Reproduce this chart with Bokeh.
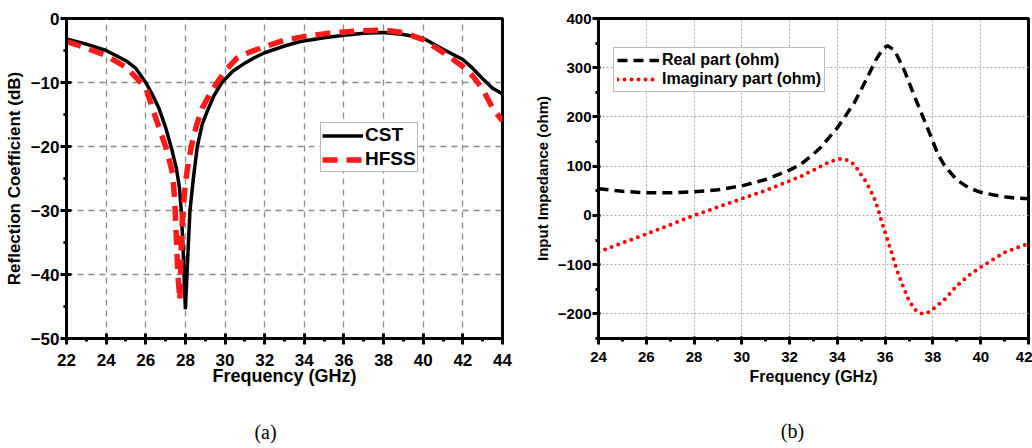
from bokeh.plotting import figure
from bokeh.models import Legend, LegendItem, FixedTicker, Range1d, Label
from bokeh.layouts import row
from bokeh.embed import file_html
from bokeh.resources import INLINE

# ---- (a) reflection coefficient, CST vs HFSS ----
freq_cst = [22, 23, 24, 25, 25.5, 26.0, 26.3, 26.66, 27.0, 27.3, 27.55, 27.7, 27.79,
            27.87, 27.93, 28.0, 28.05, 28.1, 28.23, 28.4, 28.6, 28.85, 29.1, 29.45,
            29.84, 30.4, 31.04, 31.5, 32, 33, 33.8, 35, 36, 37, 38, 39, 40, 41, 42,
            42.5, 43, 43.5, 44]
s11_cst = [-3.2, -4.0, -5.0, -6.6, -7.8, -10, -11.7, -14, -17, -20.3, -23.5, -26.5,
           -30, -35, -40, -45.4, -42, -38.5, -30, -25, -20, -16.5, -14.5, -12, -10,
           -8.2, -6.9, -6.1, -5.35, -4.3, -3.6, -3.0, -2.6, -2.3, -2.2, -2.5, -3.1,
           -4.8, -6.4, -7.8, -9.4, -10.9, -11.8]

freq_hfss = [22, 23, 24, 25, 25.75, 26.0, 26.33, 26.7, 27.0, 27.2, 27.36, 27.45,
             27.54, 27.62, 27.72, 27.76, 27.8, 27.88, 28.0, 28.15, 28.3, 28.55, 28.85,
             29.2, 29.6, 30.0, 30.6, 31.2, 32, 33, 34, 35, 36, 37, 38, 39, 40, 41, 42,
             42.5, 43, 43.5, 44]
s11_hfss = [-3.6, -4.6, -5.8, -7.6, -10, -10.8, -14, -17.3, -20, -22.3, -24.3, -28,
            -34, -40, -44, -40, -34, -30, -25.7, -22.5, -20, -16.8, -14, -12, -10,
            -8.2, -6.2, -5.3, -4.4, -3.4, -2.8, -2.4, -2.1, -1.9, -1.8, -2.2, -3.3,
            -5.3, -7.5, -9.0, -11, -14, -16]

a_xticks = [22, 24, 26, 28, 30, 32, 34, 36, 38, 40, 42, 44]
a_yticks = [-50, -40, -30, -20, -10, 0]

# ---- (b) input impedance, real and imaginary parts ----
freq_re = [24, 25, 26, 27, 28, 29, 30, 31, 32, 32.5, 33, 33.3, 34, 34.7, 35.2, 35.6,
           35.9, 36.1, 36.4, 36.8, 37.2, 37.5, 38, 38.2, 38.5, 39, 39.5, 40, 40.5,
           41, 41.5, 42]
z_re = [54, 49, 46, 46, 48, 52, 60, 73, 92, 105, 125, 138, 178, 228, 275, 315, 338,
        345, 335, 295, 245, 210, 150, 125, 100, 72, 56, 47, 42, 38, 35, 34]

freq_im = [24, 25, 26, 27, 28, 29, 30, 31, 32, 32.5, 33, 33.5, 34, 34.3, 34.7, 35.0,
           35.2, 35.4, 35.6, 35.75, 35.85, 36.05, 36.2, 36.5, 36.8, 37, 37.3, 37.55,
           37.8, 38, 38.5, 39, 39.5, 40, 40.5, 41, 41.5, 42]
z_im = [-74, -56, -38, -19, 0, 17, 34, 51, 70, 80, 92, 105, 114, 115, 104, 82, 68,
        50, 28, 5, -12, -42, -65, -112, -150, -174, -194, -200, -197, -190, -170,
        -143, -122, -105, -90, -75, -66, -57]

b_xticks = [24, 26, 28, 30, 32, 34, 36, 38, 40, 42]
b_yticks = [-200, -100, 0, 100, 200, 300, 400]

FONT = "Liberation Sans"
SERIF = "Liberation Serif"


def style_axes(p, tick_size, xtitle_size, ytitle_size, tick_in):
    for ax in (p.xaxis[0], p.yaxis[0]):
        ax.axis_line_width = 3
        ax.axis_line_color = "black"
        ax.major_tick_line_width = 3
        ax.major_tick_line_color = "black"
        ax.major_tick_out = 6
        ax.major_tick_in = tick_in
        ax.minor_tick_line_width = 3
        ax.minor_tick_line_color = "black"
        ax.minor_tick_out = 3
        ax.minor_tick_in = 0
        ax.major_label_text_font = FONT
        ax.major_label_text_font_style = "bold"
        ax.major_label_text_font_size = tick_size
        ax.major_label_text_color = "black"
        ax.axis_label_text_font = FONT
        ax.axis_label_text_font_style = "bold"
        ax.axis_label_text_color = "black"
    p.xaxis.axis_label_text_font_size = xtitle_size
    p.yaxis.axis_label_text_font_size = ytitle_size
    p.yaxis.major_label_standoff = 1
    p.outline_line_color = "black"
    p.outline_line_width = 3
    p.outline_line_alpha = 1


def caption(text, x, y):
    # panel caption, stacked in the bottom side panel under the x axis
    return Label(x=x, y=y, x_units="screen", y_units="screen", text=text,
                 text_font=SERIF, text_font_size="20px", text_align="center",
                 text_baseline="middle", text_color="black")


# ---------------- panel (a) ----------------
pa = figure(width=530, height=448, output_backend="svg", toolbar_location=None,
            x_range=Range1d(22, 44), y_range=Range1d(-50, 0),
            min_border_left=66, min_border_right=28, min_border_top=15,
            min_border_bottom=106, background_fill_color="white",
            border_fill_color="white")
pa.xaxis.ticker = FixedTicker(ticks=a_xticks, minor_ticks=[x + 1 for x in a_xticks[:-1]])
pa.yaxis.ticker = FixedTicker(ticks=a_yticks, minor_ticks=[y + 5 for y in a_yticks[:-1]])
pa.xaxis.axis_label = "Frequency (GHz)"
pa.yaxis.axis_label = "Reflection Coefficient (dB)"
style_axes(pa, "17px", "18px", "17px", 5)
pa.xaxis.major_label_standoff = 9
pa.xaxis.axis_label_standoff = -3
pa.yaxis.axis_label_standoff = 4
pa.grid.grid_line_color = "#8a8a8a"
pa.grid.grid_line_dash = "6 5"
pa.grid.grid_line_width = 1.3

r_cst = pa.line(freq_cst, s11_cst, line_color="black", line_width=3.5)
r_hfss = pa.line(freq_hfss, s11_hfss, line_color="#ff1a1a", line_width=5.5,
                 line_dash="15 9")

leg_a = Legend(items=[LegendItem(label="CST", renderers=[r_cst]),
                      LegendItem(label="HFSS", renderers=[r_hfss])],
               location=(254, 166), glyph_width=41, glyph_height=21, spacing=2,
               padding=1, margin=0, label_standoff=2,
               label_text_font=FONT, label_text_font_style="bold",
               label_text_font_size="19px", label_text_color="black",
               border_line_color="#777777", border_line_width=1,
               background_fill_color="white", background_fill_alpha=1)
pa.add_layout(leg_a, "center")
pa.add_layout(caption("(a)", 199, -21), "below")

# ---------------- panel (b) ----------------
pb = figure(width=502, height=448, output_backend="svg", toolbar_location=None,
            x_range=Range1d(24, 42), y_range=Range1d(-250, 400),
            min_border_left=68, min_border_right=4, min_border_top=18,
            min_border_bottom=110, background_fill_color="white",
            border_fill_color="white")
pb.xaxis.ticker = FixedTicker(ticks=b_xticks, minor_ticks=[x + 1 for x in b_xticks[:-1]])
pb.yaxis.ticker = FixedTicker(ticks=b_yticks, minor_ticks=[y - 50 for y in b_yticks])
pb.xaxis.axis_label = "Frequency (GHz)"
pb.yaxis.axis_label = "Input Impedance (ohm)"
style_axes(pb, "15px", "16px", "15px", 2)
pb.xaxis.major_label_standoff = 7
pb.xaxis.axis_label_standoff = 3
pb.yaxis.axis_label_standoff = 4
pb.grid.grid_line_color = "#a8a8a8"
pb.grid.grid_line_dash = "2 2"
pb.grid.grid_line_width = 1

r_re = pb.line(freq_re, z_re, line_color="black", line_width=3.5, line_dash="10 6")
r_im = pb.line(freq_im, z_im, line_color="#ff0000", line_width=4, line_dash="0 7",
               line_cap="round")

leg_b = Legend(items=[LegendItem(label="Real part (ohm)", renderers=[r_re]),
                      LegendItem(label="Imaginary part (ohm)", renderers=[r_im])],
               location=(15, 246), glyph_width=42, glyph_height=18, spacing=1,
               padding=3, margin=0, label_standoff=3,
               label_text_font=FONT, label_text_font_style="bold",
               label_text_font_size="16px", label_text_color="black",
               border_line_color="#777777", border_line_width=1,
               background_fill_color="white", background_fill_alpha=1)
pb.add_layout(leg_b, "center")
pb.add_layout(caption("(b)", 194, -21), "below")

layout = row(pa, pb)
open("out.html", "w").write(file_html(layout, INLINE))
